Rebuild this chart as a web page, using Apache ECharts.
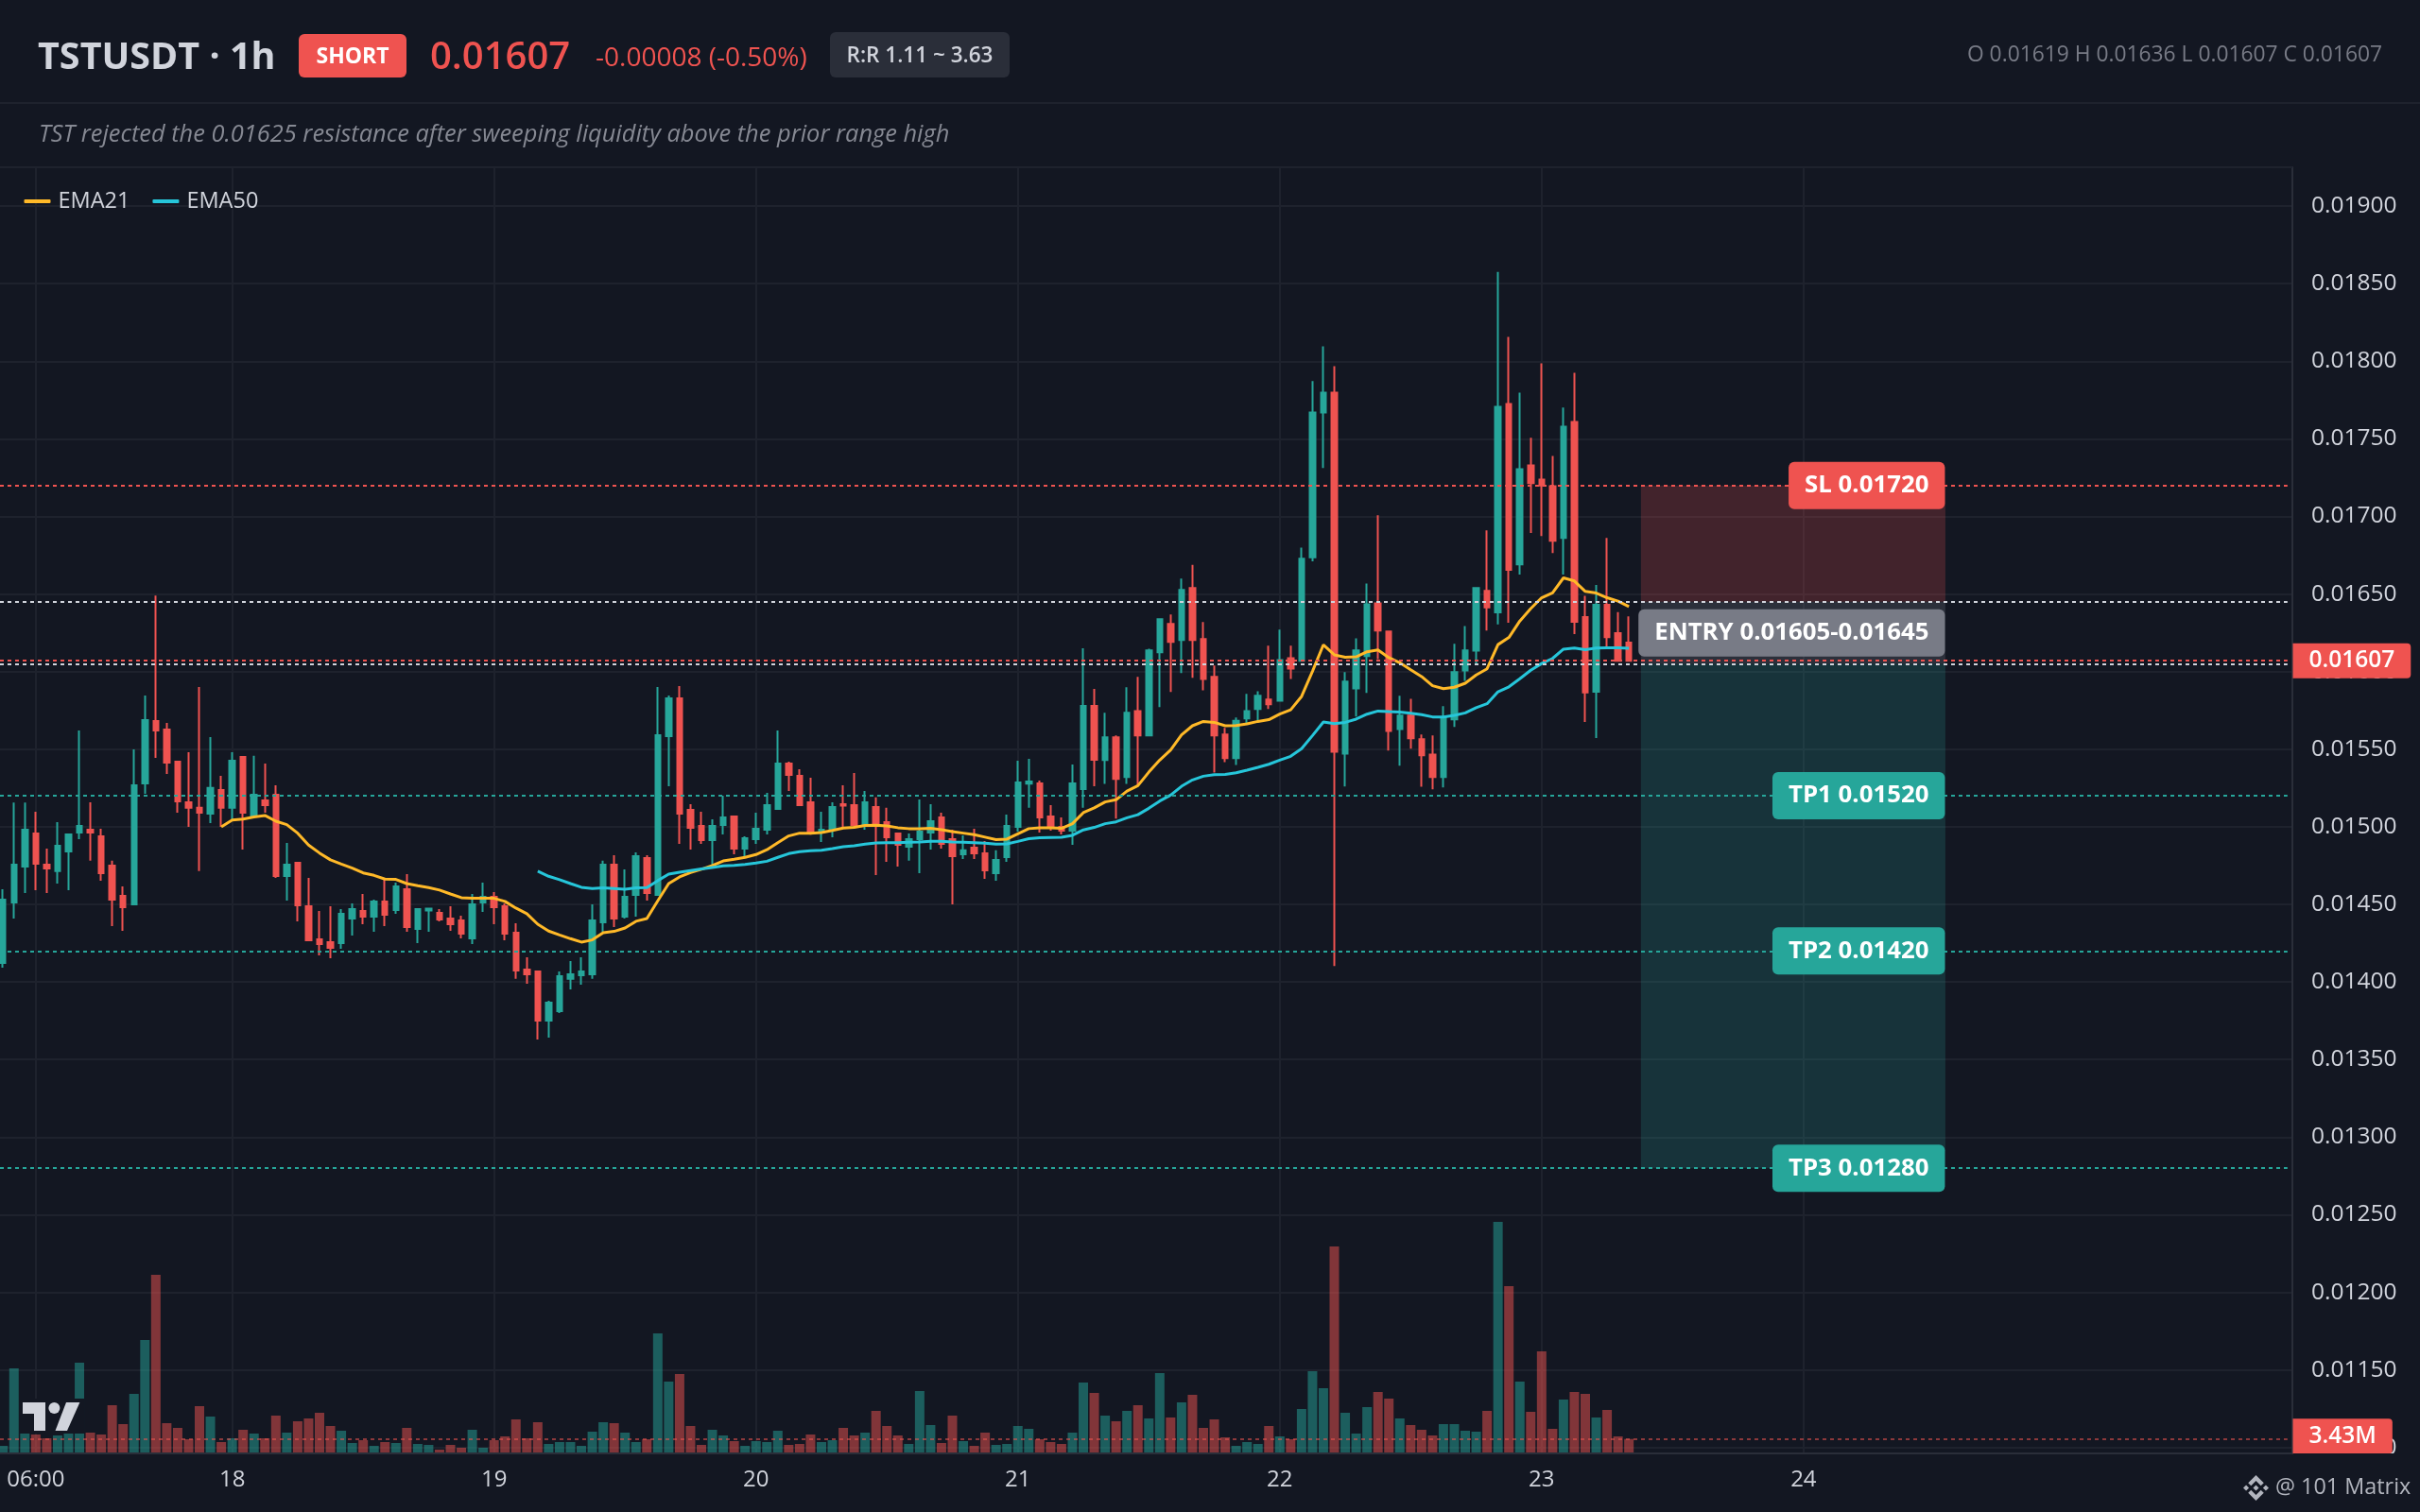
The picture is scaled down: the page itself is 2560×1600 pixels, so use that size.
<!DOCTYPE html>
<html><head><meta charset="utf-8">
<script src="https://cdn.jsdelivr.net/npm/echarts@6/dist/echarts.min.js"></script>
<style>html,body{margin:0;padding:0;background:#131722}#c{width:2560px;height:1600px}</style>
</head><body><div id="c"></div>
<script>
// Hour index of first candle, hours counted from 18th 00:00. Prices are in units of 0.00001 USDT.
const firstHour = -21;
const opens = [1412.3,1451.3,1474.4,1495.7,1475.6,1471.4,1484.1,1496.3,1498.1,1493.9,1475,1455.5,1450,1528,1568.2,1562.7,1542,1515.8,1512.2,1508.5,1523.7,
1512.2,1545,1507.1,1517,1520.7,1468.3,1476.8,1448.8,1427.5,1425.7,
1425.1,1440.9,1445.8,1442.1,1451.9,1446.4,1459.8,1434.2,1446,1444.6,
1440.9,1439.7,1428.1,1451.3,1454.9,1448.8,1431.8,1408,1406.8,1375.1,
1381.2,1402,1404.4,1405,1438.5,1475.6,1442.1,1456.1,1479.9,1456.1,
1558.4,1582.8,1510.9,1500.6,1491.4,1501.2,1506.7,1486,1492.1,1498.1,
1511.5,1540.8,1532.9,1515.8,1496.3,1498.1,1514.6,1514,1501.2,1512.8,
1503,1495.7,1487.2,1492.1,1496.3,1506.1,1492.1,1482.3,1486.6,1482.9,
1470.1,1480.5,1500,1527.8,1528,1506.7,1500,1497.5,1524.3,1577.9,
1543,1557.6,1532,1574.6,1558.8,1612.4,1630.7,1620.3,1653.8,1620.9,
1596.6,1559.4,1544.2,1569.8,1575.9,1582,1581.3,1608.7,1607,1673.6,
1767,1779.8,1547.2,1589.2,1610,1643.9,1625.8,1563,1571.6,1556.4,
1546.6,1532,1569.2,1600.8,1613.5,1652.1,1638.2,1772.4,1669.1,1732.9,
1723.8,1719.5,1686.2,1760.9,1635.2,1587,1643,1624.8,1618.7];
const closes = [1453.1,1475.6,1498.1,1476.2,1473.2,1487.8,1495.1,1500.6,1496.3,1470.1,1453.1,1448.2,1526.8,1568.8,1562.1,1541.4,1516.4,1512.2,1509.1,1525,1512.2,
1542.6,1509.1,1520.7,1514,1468.3,1475.6,1449.4,1426.9,1424.5,1422,
1443.9,1447,1442.1,1451.9,1443.3,1461.6,1435.4,1447,1447.2,1440.3,
1437.2,1431.2,1450,1454.9,1448.2,1431.2,1407.4,1405,1375.1,1386.7,
1403.8,1405,1406.8,1439.7,1475.6,1440.9,1454.9,1481.1,1457.3,1559,
1582.8,1508.5,1499.4,1491.4,1500.6,1506.1,1486,1492.7,1498.8,1514,
1540.8,1533.5,1514,1496.3,1498.1,1512.8,1513.6,1501.2,1515.8,1502.4,
1493.3,1488.4,1492.1,1496.9,1503.6,1489,1481.1,1484.8,1482.9,1472,
1478.7,1500.6,1528.6,1529.2,1506.1,1499.4,1497.5,1528,1577.9,1543.2,
1557.6,1530.8,1573.4,1558.8,1613.6,1633.7,1619.1,1652.6,1620.3,1595.3,
1558.8,1544.2,1568.3,1574.6,1584.4,1578.9,1607.5,1602,1672.8,1767,
1779.8,1548.3,1593.5,1613.6,1643.4,1626.5,1561.8,1571.6,1557,1546,
1532,1570.4,1599.6,1613.6,1653.9,1641.3,1770.7,1665.6,1730.5,1721.4,
1719.9,1684.3,1757.9,1632.1,1586.5,1643,1622.2,1607,1607];
const highs = [1459.8,1515.6,1515.6,1509.7,1486,1503,1495.7,1562.1,1515.8,1498.8,1478.1,1461.6,1549.9,1584.6,1649,1567,1542.6,1548.1,1590.1,1557.8,1532.9,
1548.1,1545,1545.7,1540.8,1526.8,1489.6,1476.8,1467.1,1445.8,1448.8,
1447,1450.6,1456.7,1453.1,1466.5,1464,1469.5,1447.6,1447.6,1447,
1448.8,1442.7,1456.7,1464,1458,1450.6,1437.9,1415.9,1406.8,1387.9,
1406.8,1413.5,1415.9,1450,1478.1,1481.7,1472.6,1483.5,1481.7,1590.1,
1584.6,1590.7,1514.6,1509.7,1504.8,1520.1,1506.7,1493.9,1509.1,1521.9,
1562.1,1542,1537.1,1531.6,1509.7,1515.8,1526.8,1534.7,1523.1,1518.9,
1512.2,1495.7,1495.7,1517.6,1514.6,1509.1,1498.1,1494.5,1498.8,1490.8,
1484.8,1507.9,1542.6,1543.8,1529.8,1514,1506.1,1540.2,1615.1,1588.9,
1573.4,1558.8,1589.9,1596.6,1614.8,1633.7,1636.8,1659.9,1668.8,1631.9,
1603.9,1563.7,1570.4,1585.6,1587.4,1616.7,1627,1616.7,1679.9,1787.2,
1809.6,1796.8,1599.6,1621.5,1656.8,1700.8,1625.8,1584.4,1582.5,1559.4,
1558.8,1577.7,1617.9,1629.4,1653.9,1691,1857.6,1815.7,1779.8,1750.7,
1798.7,1739,1770.1,1792.6,1648.9,1655.8,1686.2,1638.4,1635.6];
const lows = [1409.2,1440.9,1457.3,1459.2,1457.3,1463.4,1459.2,1492.1,1478.1,1465.3,1436,1433,1450,1521.3,1544.4,1534.1,1509.1,1500,1471.4,1502.4,1500,
1504.2,1485.4,1507.1,1509.1,1467.1,1452.5,1439.1,1426.3,1417.1,1415.3,
1421.4,1429.9,1437.2,1432.4,1436,1443.9,1432.4,1425.1,1432.4,1439.1,
1433,1428.1,1424.5,1445.2,1437.2,1426.9,1402,1398.9,1363,1364.2,
1380,1395.2,1398.3,1402,1432.4,1435.4,1440.9,1442.1,1452.5,1456.1,
1526.2,1489,1485.4,1489,1475.6,1495.1,1482.3,1481.1,1489,1495.1,
1511.5,1523.1,1513.4,1494.9,1490.2,1493.3,1500,1500,1498.1,1468.9,
1477.4,1474.4,1478.1,1470.1,1485.4,1486,1450,1479.3,1479.3,1466.5,
1465.3,1477.4,1496.9,1512.2,1496.3,1497.5,1495.1,1488.4,1512.2,1526.2,
1527.7,1505.2,1527.7,1527.1,1558.8,1577.1,1586.8,1599,1596,1588,
1535,1541.7,1539.9,1566.7,1568.5,1575.9,1581.3,1595.3,1607,1671,
1731.2,1410.2,1526,1571,1586.2,1608,1549.1,1539.3,1550.3,1525.9,
1524.1,1525.3,1564.3,1594.1,1604.8,1626.5,1630.4,1631.5,1662.6,1689.3,
1687.3,1676.4,1662.6,1624.1,1567.6,1557.2,1615.6,1607,1607];
// Volume, millions
const volumes = [1.68,21.36,8.88,4.56,3.6,4.32,5.04,22.8,5.04,4.56,12,7.2,14.88,28.56,45.12,7.44,6.24,3.36,11.76,9.12,2.64,
3.6,5.76,4.8,3.6,9.36,5.04,7.92,8.64,10.08,6.72,
5.52,2.4,3.12,1.68,2.64,2.4,6.24,2.16,1.92,.72,
1.92,1.2,5.76,1.2,3.12,4.08,8.4,3.6,7.68,2.16,
2.64,2.64,1.68,5.28,7.68,7.44,5.04,2.64,3.36,30.24,
18,19.92,6.72,1.92,5.76,4.32,2.88,1.68,2.88,2.64,
5.52,1.92,2.16,4.56,2.64,3.12,6.24,4.32,5.04,10.56,
6.72,4.32,2.16,15.6,6.96,2.4,9.36,2.88,1.68,5.04,
1.92,2.16,6.72,6,3.36,2.64,2.16,5.04,17.76,15.12,
9.36,7.92,10.56,12,8.64,20.16,8.88,12.72,14.64,6.24,
8.4,3.84,1.68,2.64,2.16,6.72,4.08,3.36,11.04,20.64,
16.32,52.32,10.08,4.8,11.52,15.36,13.68,8.64,6.96,5.76,
4.32,7.2,7.2,5.52,5.28,10.56,58.56,42.24,18,10.32,
25.68,6,13.44,15.36,14.88,8.88,10.8,4.08,3.43];
const ema21Start = -1;
const ema21 = [1500,1504.4,1505,1506.3,1507.3,1503.6,1501.4,1495.9,1488.2,1483.1,1478.7,1476,1473.4,1470.3,1468.7,1466.3,1466.1,1463.4,1462,1460.8,1459.2,1456.7,1454.3,1453.9,1453.9,1453.9,1451.9,1447.6,1444,1437.2,1432.8,1430.3,
1427.9,1425.7,1427.1,1431.8,1432.6,1434.8,1439.1,1440.9,1452.3,1463.4,1467.7,1470.5,1472.6,1475,1478,1479.1,1480.3,1482.1,1485.2,1489.8,1494.1,1495.9,1495.9,1496.3,1497.7,1499.2,1499.6,1500.8,1501,1500.6,1499.4,1498.8,1498.8,1499,1498.1,1496.9,1495.9,1494.9,1493.3,1491.7,1492.1,1495.5,1498.8,1499.4,1499.4,1499,1502,1509.1,1512.2,
1516,1517.4,1523,1526.5,1535.2,1543,1549.5,1559.2,1565.1,1567.9,1567.3,1565.1,1565.3,1566.3,1567.9,1569,1572.6,1575.4,1584,1600.2,1617.3,1610.8,1609.3,1609.5,1612.8,1614,1609,1605.7,1601.2,1596.8,1590.9,1589,1589.9,1592.5,1597.8,1601.8,1617.4,1622,
1632.6,1640.6,1647.6,1650.8,1660.4,1658.4,1651.7,1650.6,1647.6,1645.4,1641.9];
const ema50Start = 28;
const ema50 = [1471.4,1468.1,1465.9,1463.4,1461,1460.2,1460.6,1460.2,1459.8,1460.6,1460.8,1465.3,1469.5,1470.7,1471.8,1472.8,1473.8,1474.8,1475.2,1475.8,1476.6,1477.8,1480.3,1482.7,1483.9,1484.5,1484.9,1486,1487.2,1487.8,1488.8,1489.6,1489.8,1489.8,1490,1490.2,1490.6,1490.6,1490.2,1490,1489.8,1489.4,1488.8,1489,1490.6,1492.3,1492.9,1493.1,1493.3,1494.5,1498,1499.6,
1502,1503.2,1505.8,1507.8,1511.9,1516.6,1520.4,1526.1,1530.2,1532.6,1533.6,1533.8,1534.8,1536.5,1538.3,1540.3,1543,1545.4,1550.3,1558.8,1567.5,1566.5,1567.3,1569.4,1572.6,1574.6,1574.2,1574,1573.2,1572.2,1570.8,1570.8,1571.8,1573.4,1576.7,1579.3,1587,1590.2,
1595.4,1600.9,1605.2,1608.5,1614.5,1615.2,1614.1,1615.2,1615.4,1615.4,1615];
const priceTicks = [0.011,0.0115,0.012,0.0125,0.013,0.0135,0.014,0.0145,0.015,0.0155,0.016,0.0165,0.017,0.0175,0.018,0.0185,0.019];
const timeTickHours = [-18,0,24,48,72,96,120,144];
const timeTickLabels = ['06:00','18','19','20','21','22','23','24'];
const stopLoss = 0.0172, entryHigh = 0.01645, entryLow = 0.01605, lastPrice = 0.01607;
const takeProfits = [0.0152,0.0142,0.0128];
const lastVolume = 3.43;
const zoneStartHour = 129.1, zoneEndHour = 157;

const UP='#26a69a', DOWN='#ef5350', BG='#131722', FONT="'Open Sans', sans-serif";
const hourMin=-21.28, hourMax=188.8, lineEndHour=188.35;
const P=v=>v/1e5;
const candleData=opens.map((o,i)=>[firstHour+i,P(o),P(closes[i]),P(lows[i]),P(highs[i])]);
const volData=volumes.map((v,i)=>({value:[firstHour+i,v],itemStyle:{color:closes[i]>=opens[i]?'rgba(38,166,154,0.5)':'rgba(239,83,80,0.5)'}}));
const level=(p,color)=>[{xAxis:hourMin,yAxis:p,lineStyle:{color,width:2,type:[4,4]}},{xAxis:lineEndHour,yAxis:p}];
const tag=(hour,p,text,bg)=>({coord:[hour,p],symbol:'rect',symbolSize:1,itemStyle:{color:'transparent'},
  label:{show:true,position:'left',distance:0,formatter:text,color:'#fff',backgroundColor:bg,borderRadius:6,
    padding:[17,17,7,17],fontFamily:FONT,fontSize:25.8,fontWeight:700,lineHeight:26}});
const axisTag=(hour,p,text,pad,off)=>({coord:[hour,p],symbol:'rect',symbolSize:1,itemStyle:{color:'transparent'},
  label:{show:true,position:'right',distance:0,formatter:text,color:'#fff',backgroundColor:DOWN,borderRadius:[0,4,4,0],
    padding:[8,pad,4,pad],fontFamily:FONT,fontSize:24.5,fontWeight:600,lineHeight:25,offset:off}});
const txt=(text,x,y,font,fill,align)=>({type:'text',z:60,style:{text,x,y,font,fill,textAlign:align||'left',textVerticalAlign:'middle'}});
const box=(x,y,w,h,fill,r)=>({type:'rect',z:59,shape:{x,y,width:w,height:h,r:r||0},style:{fill}});
const bnbPolys=[
  [[12,9.28],[14.7,11.98],[12,14.7],[9.27,12]],
  [[2.72,9.28],[5.41,12],[2.72,14.69],[0,12]],
  [[21.26,9.28],[24,12],[21.28,14.72],[18.57,12]],
  [[11.99,0],[19.34,7.34],[16.62,10.06],[11.99,5.42],[7.35,10.08],[4.64,7.36]],
  [[16.62,13.92],[19.34,16.64],[11.99,23.99],[4.64,16.64],[7.35,13.92],[11.99,18.58]]];

const chart=echarts.init(document.getElementById('c'),null,{width:2560,height:1600});
chart.setOption({
  animation:false, backgroundColor:BG,
  textStyle:{fontFamily:FONT},
  legend:{left:20.5,top:196,data:['EMA21','EMA50'],icon:'roundRect',itemWidth:28,itemHeight:4,itemGap:24,
    textStyle:{color:'#d1d4dc',fontSize:23.5,fontWeight:500,fontFamily:FONT,padding:[0,0,0,3]}},
  grid:{left:0,right:135,top:177,bottom:62,containLabel:false},
  xAxis:{type:'value',min:hourMin,max:hourMax,
    axisLine:{show:true,onZero:false,lineStyle:{color:'#2a2e39',width:2}},
    axisTick:{show:false,customValues:timeTickHours},
    axisLabel:{customValues:timeTickHours,margin:16,color:'#d1d4dc',fontSize:24,fontWeight:500,fontFamily:FONT,
      formatter:v=>timeTickLabels[timeTickHours.indexOf(v)]},
    splitLine:{show:true,lineStyle:{color:'#1e222d',width:2}}},
  yAxis:[{type:'value',position:'right',min:0.010962,max:0.01925,
      axisLine:{show:true,onZero:false,lineStyle:{color:'#2a2e39',width:2}},
      axisTick:{show:false,customValues:priceTicks},
      axisLabel:{customValues:priceTicks,margin:20,color:'#d1d4dc',fontSize:24.5,fontFamily:FONT,formatter:v=>v.toFixed(5)},
      splitLine:{show:true,lineStyle:{color:'#1e222d',width:2}}},
    {type:'value',show:false,min:-0.24,max:326.4,splitLine:{show:false},axisLine:{show:false,onZero:false}}],
  series:[
    {name:'Volume',type:'bar',xAxisIndex:0,yAxisIndex:1,barWidth:10,data:volData,z:1,
      markLine:{silent:true,symbol:'none',label:{show:false},z:6,
        data:[[{xAxis:hourMin,yAxis:lastVolume,lineStyle:{color:'rgba(239,83,80,0.55)',width:2,type:[4,4]}},{xAxis:lineEndHour,yAxis:lastVolume}]]},
      markPoint:{silent:true,z:8,data:[axisTag(hourMax,lastVolume,'3.43M',17,[0,-3])]}},
    {name:'Zones',type:'line',data:[],z:1,
      markArea:{silent:true,z:1,data:[
        [{xAxis:zoneStartHour,yAxis:stopLoss,itemStyle:{color:'rgba(239,83,80,0.22)'}},{xAxis:zoneEndHour,yAxis:entryHigh}],
        [{xAxis:zoneStartHour,yAxis:entryHigh,itemStyle:{color:'rgba(120,123,134,0.25)'}},{xAxis:zoneEndHour,yAxis:entryLow}],
        [{xAxis:zoneStartHour,yAxis:entryLow,itemStyle:{color:'rgba(38,166,154,0.2)'}},{xAxis:zoneEndHour,yAxis:takeProfits[2]}]]}},
    {name:'TSTUSDT',type:'candlestick',xAxisIndex:0,yAxisIndex:0,barWidth:6,z:3,data:candleData,
      itemStyle:{color:UP,color0:DOWN,borderColor:UP,borderColor0:DOWN,borderWidth:2}},
    {name:'EMA21',type:'line',showSymbol:false,z:4,itemStyle:{color:'#ffb928'},lineStyle:{color:'#ffb928',width:3},
      data:ema21.map((v,i)=>[ema21Start+i,P(v)])},
    {name:'EMA50',type:'line',showSymbol:false,z:4,itemStyle:{color:'#26c6da'},lineStyle:{color:'#26c6da',width:3},
      data:ema50.map((v,i)=>[ema50Start+i,P(v)])},
    {name:'Levels',type:'line',data:[],z:5,
      markLine:{silent:true,symbol:'none',label:{show:false},z:6,data:[
        level(stopLoss,DOWN),level(entryHigh,'#d1d4dc'),level(lastPrice,DOWN),level(entryLow,'#d1d4dc'),
        level(takeProfits[0],UP),level(takeProfits[1],UP),level(takeProfits[2],UP)]},
      markPoint:{silent:true,z:8,data:[
        tag(zoneEndHour,stopLoss,'SL 0.01720',DOWN),
        tag(zoneEndHour,(entryHigh+entryLow)/2,'ENTRY 0.01605-0.01645','#787b86'),
        tag(zoneEndHour,takeProfits[0],'TP1 0.01520',UP),
        tag(zoneEndHour,takeProfits[1],'TP2 0.01420',UP),
        tag(zoneEndHour,takeProfits[2],'TP3 0.01280',UP),
        axisTag(hourMax,lastPrice,'0.01607',17,[0,0])]}}
  ],
  graphic:[
    box(0,108,2560,2,'#1e222d'),box(0,176,2425,2,'#1e222d'),
    txt('TSTUSDT · 1h',40,62,"700 39.5px "+FONT,'#d1d4dc'),
    box(316,36,114,46,DOWN,6),
    txt('SHORT',373,60,"700 23px "+FONT,'#fff','center'),
    txt('0.01607',455,62,"600 40px "+FONT,DOWN),
    txt('-0.00008 (-0.50%)',630,62,"500 28px "+FONT,DOWN),
    box(878,34,190,48,'#2a2e39',6),
    txt('R:R 1.11 ~ 3.63',973,60,"600 22.5px "+FONT,'#d1d4dc','center'),
    txt('O 0.01619 H 0.01636 L 0.01607 C 0.01607',2520,59,"22.8px "+FONT,'#787b86','right'),
    txt('TST rejected the 0.01625 resistance after sweeping liquidity above the prior range high',41,143,"italic 25.4px "+FONT,'#868993'),
    // TradingView mark
    box(21,1480,68,37,BG),
    {type:'polygon',z:60,shape:{points:[[24,1484],[48,1484],[48,1514],[36,1514],[36,1496],[24,1496]]},style:{fill:'#d1d4dc'}},
    {type:'circle',z:60,shape:{cx:57.4,cy:1490,r:6},style:{fill:'#d1d4dc'}},
    {type:'polygon',z:60,shape:{points:[[70,1484],[84.4,1484],[71,1514],[58.5,1514]]},style:{fill:'#d1d4dc'}},
    // pane bottom clip + watermark
    box(2426,1538,134,62,BG),
    {type:'group',x:2373,y:1561,scaleX:1.125,scaleY:1.125,children:bnbPolys.map(points=>({type:'polygon',z:60,shape:{points},style:{fill:'#b2b5be'}}))},
    txt('@ 101 Matrix',2407,1574,"23.4px "+FONT,'#b2b5be')
  ]
});
</script></body></html>
